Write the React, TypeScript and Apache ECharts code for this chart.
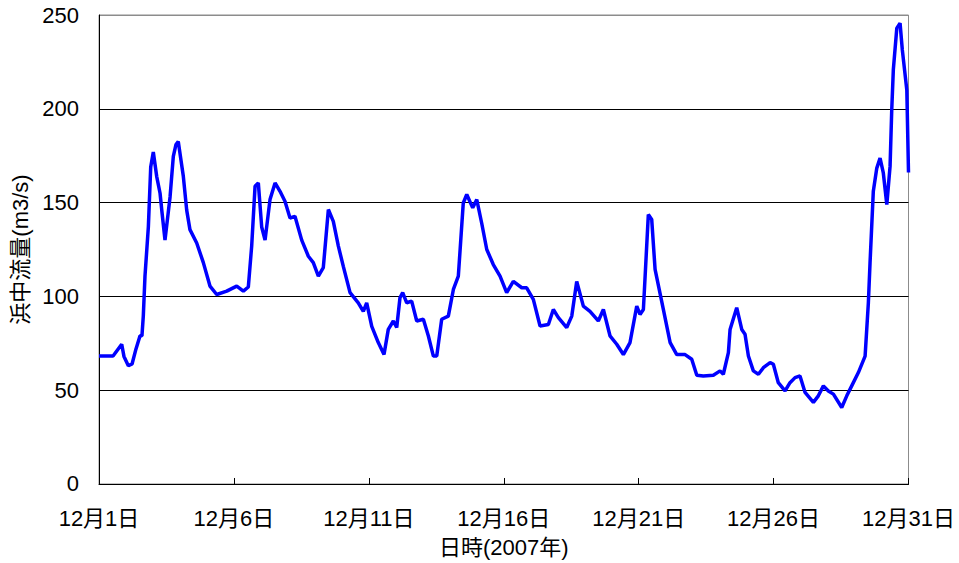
import React, { useEffect, useRef } from "react";
import * as echarts from "echarts";

// hours since 2007-12-01 00:00
const hours = [
  0, 12.5, 20.2, 22.2, 26.1, 29.4, 32.9, 36.5, 38.2, 39.4, 40.9, 43.9, 46.0, 48.3, 51.3, 54.3, 56.0, 58.7,
  63.2, 66.1, 68.5, 70.5, 75.0, 78.0, 80.9, 86.9, 92.8, 98.7, 104.7, 113.6, 122.5, 128.4, 132.8, 135.8,
  138.8, 141.7, 144.7, 147.7, 152.1, 156.6, 161.0, 165.4, 169.9, 174.3, 180.3, 186.2, 190.6, 195.1, 199.5,
  204.0, 208.4, 212.9, 217.3, 223.3, 230.6, 235.1, 238.1, 242.6, 248.4, 253.5, 257.3, 261.8, 264.8, 267.7,
  270.1, 273.7, 278.1, 282.6, 288.5, 292.9, 297.4, 300.4, 304.8, 310.7, 315.2, 319.6, 324.0, 327.1, 332.4,
  336.0, 340.4, 344.9, 350.7, 356.7, 362.6, 368.5, 376.0, 380.4, 386.3, 392.3, 399.7, 404.1, 408.6, 416.0,
  420.5, 424.9, 430.8, 436.7, 444.1, 448.6, 454.5, 460.5, 466.4, 472.3, 478.3, 481.2, 484.2, 488.6, 491.6,
  494.6, 502.0, 508.0, 513.9, 521.3, 527.2, 531.7, 537.5, 546.4, 552.4, 555.3, 559.8, 561.3, 567.2, 571.7,
  574.6, 577.6, 582.0, 586.5, 590.9, 596.9, 599.8, 604.2, 610.2, 614.6, 619.1, 623.5, 628.0, 635.4, 639.8,
  644.3, 648.7, 653.2, 660.6, 665.1, 669.5, 675.4, 681.4, 684.3, 685.8, 688.7, 691.8, 694.7, 697.6, 700.7,
  703.6, 705.1, 706.5, 709.6, 712.5, 714.5, 718.5, 720,
];

// flow (m3/s)
const flow = [
  68.2, 68.2, 74.5, 68, 63, 64, 72, 79, 79, 89.5, 110.8, 137, 169, 177, 164, 155, 145, 130,
  153, 174.6, 181, 182.6, 164, 146, 135.6, 128.5, 118, 105.5, 101, 102.8, 105.5, 102.8, 105, 126.8,
  158.7, 160.5, 137, 130, 151.6, 160.5, 156, 150.7, 141.8, 142.7, 130, 121.4, 118, 110.8, 115.3,
  146.3, 140, 126.8, 116, 102, 96.6, 92, 96.6, 84, 75.4, 69, 82.4, 86.9, 83.4, 99.3,
  102, 96.6, 97.5, 86.9, 87.8, 79, 68.2, 68.2, 87.8, 89.5, 103.7, 110.8, 149.8, 154.3, 147.2,
  151.6, 139, 125, 117, 110.8, 102, 108, 104.6, 104.6, 98.4, 84.2, 85, 93, 88.7, 83.4,
  89.5, 108, 94.8, 92, 86.9, 93, 79, 74.5, 69, 75.4, 94.8, 90.4, 93, 143.6, 141,
  114.4, 93, 75.4, 69, 69, 66.5, 58, 57.6, 58, 60.3, 58.5, 70, 82.4, 94, 82.4,
  79.8, 68.2, 60.3, 58.5, 62, 64.7, 63.8, 54, 49.6, 54, 56.7, 57.6, 48.8, 43.5, 47,
  52.3, 49.6, 47.9, 40.8, 47, 52.3, 59.4, 68.2, 96.6, 118, 156, 168.4, 173.7, 165.8, 149,
  169.3, 199.5, 220.7, 243, 245.6, 231.4, 210, 166,
];

const dayLabels = ["12月1日", "12月6日", "12月11日", "12月16日", "12月21日", "12月26日", "12月31日"];
const yTicks = [0, 50, 100, 150, 200, 250];

const FONT = "'Liberation Sans', Arial, 'Noto Sans CJK JP', sans-serif";

export default function App() {
  const ref = useRef<HTMLDivElement>(null);
  useEffect(() => {
    if (!ref.current) return;
    const chart = echarts.init(ref.current, null, { renderer: "svg" });
    const data = hours.map((h, i) => [h, flow[i]]);
    chart.setOption({
      animation: false,
      backgroundColor: "#fff",
      grid: {
        left: 99,
        right: 50.5,
        top: 15,
        bottom: 78,
        show: true,
        borderColor: "#8c8c8c",
        borderWidth: 1,
        backgroundColor: "transparent",
      },
      xAxis: {
        type: "value",
        min: 0,
        max: 720,
        interval: 120,
        name: "日時(2007年)",
        nameLocation: "middle",
        nameGap: 52,
        nameTextStyle: { fontSize: 22, color: "#000", fontFamily: FONT },
        axisLine: { show: true, lineStyle: { color: "#000", width: 1 } },
        axisTick: { show: true, inside: true, length: 6, lineStyle: { color: "#000" } },
        splitLine: { show: false },
        axisLabel: {
          fontSize: 22,
          color: "#000",
          fontFamily: FONT,
          margin: 23,
          formatter: (v: number) => dayLabels[Math.round(v / 120)] ?? "",
        },
      },
      yAxis: {
        type: "value",
        min: yTicks[0],
        max: yTicks[yTicks.length - 1],
        interval: 50,
        name: "浜中流量(m3/s)",
        nameLocation: "middle",
        nameGap: 68,
        nameRotate: 90,
        nameTextStyle: { fontSize: 22, color: "#000", fontFamily: FONT },
        axisLine: { show: true, lineStyle: { color: "#000", width: 1 } },
        axisTick: { show: false },
        splitLine: {
          show: true,
          lineStyle: { color: ["#000", "#000", "#000", "#000", "#000", "#8c8c8c"], width: 1 },
        },
        axisLabel: { fontSize: 22, color: "#000", fontFamily: FONT, margin: 20 },
      },
      series: [
        {
          type: "line",
          data,
          showSymbol: false,
          symbol: "none",
          lineStyle: { color: "#0000ff", width: 3.5 },
          itemStyle: { color: "#0000ff" },
        },
      ],
    });
    return () => chart.dispose();
  }, []);
  return <div ref={ref} style={{ width: 959, height: 563, position: "absolute", left: 0, top: 0 }} />;
}
